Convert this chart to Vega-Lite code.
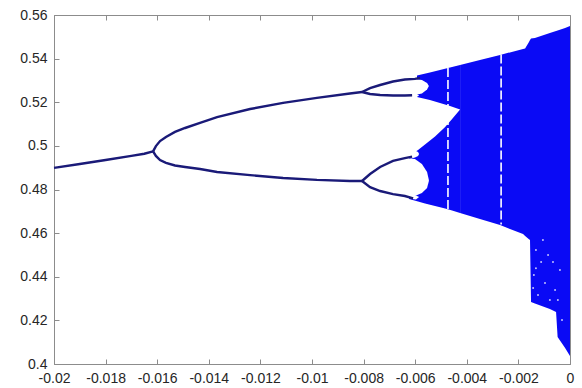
{
  "$schema": "https://vega.github.io/schema/vega-lite/v6.json",
  "width": 516,
  "height": 349,
  "autosize": {"type": "none"},
  "padding": {"left": 54, "top": 15, "right": 12, "bottom": 24},
  "background": "white",
  "config": {
    "view": {"stroke": "#8c8c8c", "strokeWidth": 1},
    "axis": {
      "grid": false,
      "domainColor": "#8c8c8c",
      "tickColor": "#8c8c8c",
      "tickSize": -5,
      "labelFont": "Liberation Sans",
      "labelFontSize": 14,
      "labelColor": "#262626",
      "labelPadding": 12,
      "labelOverlap": false,
      "labelFlush": false,
      "labelBound": false
    }
  },
  "datasets": {
    "chaos": [
      {"band": "A", "x": -0.00593, "hi": 0.5323, "lo": 0.5224},
      {"band": "A", "x": -0.00543, "hi": 0.5336, "lo": 0.5210},
      {"band": "A", "x": -0.00504, "hi": 0.5348, "lo": 0.5197},
      {"band": "A", "x": -0.00465, "hi": 0.5359, "lo": 0.5183},
      {"band": "A", "x": -0.00426, "hi": 0.5371, "lo": 0.5167},
      {"band": "B", "x": -0.00624, "hi": 0.4954, "lo": 0.4756},
      {"band": "B", "x": -0.00589, "hi": 0.4981, "lo": 0.4745},
      {"band": "B", "x": -0.00562, "hi": 0.5006, "lo": 0.4736},
      {"band": "B", "x": -0.00523, "hi": 0.5043, "lo": 0.4724},
      {"band": "B", "x": -0.00484, "hi": 0.5087, "lo": 0.4713},
      {"band": "B", "x": -0.00457, "hi": 0.5123, "lo": 0.4704},
      {"band": "B", "x": -0.00426, "hi": 0.5167, "lo": 0.4692},
      {"band": "C", "x": -0.00426, "hi": 0.5371, "lo": 0.4692},
      {"band": "C", "x": -0.00349, "hi": 0.5394, "lo": 0.4665},
      {"band": "C", "x": -0.00271, "hi": 0.5417, "lo": 0.4637},
      {"band": "C", "x": -0.00182, "hi": 0.5444, "lo": 0.4596},
      {"band": "C", "x": -0.00174, "hi": 0.5446, "lo": 0.4587},
      {"band": "C", "x": -0.00159, "hi": 0.5476, "lo": 0.4572},
      {"band": "C", "x": -0.00155, "hi": 0.5485, "lo": 0.4568},
      {"band": "C", "x": -0.00151, "hi": 0.5492, "lo": 0.4284},
      {"band": "C", "x": -0.00136, "hi": 0.5495, "lo": 0.4277},
      {"band": "C", "x": -0.00078, "hi": 0.5517, "lo": 0.4252},
      {"band": "C", "x": -0.00054, "hi": 0.5527, "lo": 0.4238},
      {"band": "C", "x": -0.00048, "hi": 0.5529, "lo": 0.4124},
      {"band": "C", "x": -0.00019, "hi": 0.5540, "lo": 0.4073},
      {"band": "C", "x": 0, "hi": 0.5550, "lo": 0.4037}
    ],
    "gaps": [
      {"x": -0.00473, "hi": 0.5357, "lo": 0.4706},
      {"x": -0.00267, "hi": 0.5419, "lo": 0.4640}
    ],
    "specks": [
      {"x": -0.00132, "y": 0.4523},
      {"x": -0.00112, "y": 0.4468},
      {"x": -0.00140, "y": 0.4408},
      {"x": -0.00097, "y": 0.4371},
      {"x": -0.00124, "y": 0.4316},
      {"x": -0.00078, "y": 0.4293},
      {"x": -0.00093, "y": 0.4211},
      {"x": -0.00070, "y": 0.4179},
      {"x": -0.00058, "y": 0.4339},
      {"x": -0.00085, "y": 0.4500},
      {"x": -0.00039, "y": 0.4431},
      {"x": -0.00116, "y": 0.4248},
      {"x": -0.00054, "y": 0.4133},
      {"x": -0.00143, "y": 0.4348},
      {"x": -0.00105, "y": 0.4568},
      {"x": -0.00047, "y": 0.4293},
      {"x": -0.00066, "y": 0.4468},
      {"x": -0.00132, "y": 0.4439},
      {"x": -0.00031, "y": 0.4202}
    ],
    "holes": [
      {"loop": "U", "x": -0.00806, "hi": 0.5247, "lo": 0.5247},
      {"loop": "U", "x": -0.00775, "hi": 0.5265, "lo": 0.5238},
      {"loop": "U", "x": -0.00736, "hi": 0.5279, "lo": 0.5233},
      {"loop": "U", "x": -0.00686, "hi": 0.5295, "lo": 0.5231},
      {"loop": "U", "x": -0.00640, "hi": 0.5304, "lo": 0.5231},
      {"loop": "U", "x": -0.00601, "hi": 0.5307, "lo": 0.5233},
      {"loop": "U", "x": -0.00574, "hi": 0.5302, "lo": 0.5240},
      {"loop": "U", "x": -0.00554, "hi": 0.5288, "lo": 0.5258},
      {"loop": "U", "x": -0.00547, "hi": 0.5274, "lo": 0.5274},
      {"loop": "L", "x": -0.00806, "hi": 0.4839, "lo": 0.4839},
      {"loop": "L", "x": -0.00775, "hi": 0.4871, "lo": 0.4811},
      {"loop": "L", "x": -0.00736, "hi": 0.4903, "lo": 0.4793},
      {"loop": "L", "x": -0.00686, "hi": 0.4931, "lo": 0.4779},
      {"loop": "L", "x": -0.00640, "hi": 0.4944, "lo": 0.4770},
      {"loop": "L", "x": -0.00601, "hi": 0.4940, "lo": 0.4770},
      {"loop": "L", "x": -0.00574, "hi": 0.4917, "lo": 0.4784},
      {"loop": "L", "x": -0.00554, "hi": 0.4880, "lo": 0.4807},
      {"loop": "L", "x": -0.00547, "hi": 0.4844, "lo": 0.4839},
      {"loop": "S1", "x": -0.00624, "hi": 0.5233, "lo": 0.5233},
      {"loop": "S1", "x": -0.00612, "hi": 0.5240, "lo": 0.5222},
      {"loop": "S1", "x": -0.00597, "hi": 0.5240, "lo": 0.5222},
      {"loop": "S1", "x": -0.00585, "hi": 0.5231, "lo": 0.5231},
      {"loop": "S2", "x": -0.00628, "hi": 0.4949, "lo": 0.4949},
      {"loop": "S2", "x": -0.00616, "hi": 0.4972, "lo": 0.4942},
      {"loop": "S2", "x": -0.00601, "hi": 0.4979, "lo": 0.4947},
      {"loop": "S2", "x": -0.00589, "hi": 0.4972, "lo": 0.4954},
      {"loop": "S2", "x": -0.00585, "hi": 0.4963, "lo": 0.4963},
      {"loop": "S3", "x": -0.00624, "hi": 0.4768, "lo": 0.4768},
      {"loop": "S3", "x": -0.00612, "hi": 0.4775, "lo": 0.4756},
      {"loop": "S3", "x": -0.00597, "hi": 0.4773, "lo": 0.4754},
      {"loop": "S3", "x": -0.00585, "hi": 0.4766, "lo": 0.4766}
    ],
    "branches": [
      {"seg": "p1", "i": 0, "x": -0.02, "y": 0.4899},
      {"seg": "p1", "i": 1, "x": -0.019, "y": 0.4917},
      {"seg": "p1", "i": 2, "x": -0.018, "y": 0.4935},
      {"seg": "p1", "i": 3, "x": -0.017, "y": 0.4954},
      {"seg": "p1", "i": 4, "x": -0.0165, "y": 0.4964},
      {"seg": "p1", "i": 5, "x": -0.01616, "y": 0.4975},
      {"seg": "up2", "i": 0, "x": -0.01616, "y": 0.4975},
      {"seg": "up2", "i": 1, "x": -0.01605, "y": 0.4999},
      {"seg": "up2", "i": 2, "x": -0.01589, "y": 0.5022},
      {"seg": "up2", "i": 3, "x": -0.01566, "y": 0.5041},
      {"seg": "up2", "i": 4, "x": -0.01531, "y": 0.5064},
      {"seg": "up2", "i": 5, "x": -0.01492, "y": 0.5082},
      {"seg": "up2", "i": 6, "x": -0.01434, "y": 0.5105},
      {"seg": "up2", "i": 7, "x": -0.01368, "y": 0.5132},
      {"seg": "up2", "i": 8, "x": -0.01240, "y": 0.5169},
      {"seg": "up2", "i": 9, "x": -0.01112, "y": 0.5197},
      {"seg": "up2", "i": 10, "x": -0.00981, "y": 0.5220},
      {"seg": "up2", "i": 11, "x": -0.00853, "y": 0.5240},
      {"seg": "up2", "i": 12, "x": -0.00806, "y": 0.5247},
      {"seg": "lo2", "i": 0, "x": -0.01616, "y": 0.4975},
      {"seg": "lo2", "i": 1, "x": -0.01605, "y": 0.4954},
      {"seg": "lo2", "i": 2, "x": -0.01589, "y": 0.4935},
      {"seg": "lo2", "i": 3, "x": -0.01566, "y": 0.4922},
      {"seg": "lo2", "i": 4, "x": -0.01531, "y": 0.4910},
      {"seg": "lo2", "i": 5, "x": -0.01492, "y": 0.4903},
      {"seg": "lo2", "i": 6, "x": -0.01434, "y": 0.4894},
      {"seg": "lo2", "i": 7, "x": -0.01368, "y": 0.4880},
      {"seg": "lo2", "i": 8, "x": -0.01240, "y": 0.4866},
      {"seg": "lo2", "i": 9, "x": -0.01112, "y": 0.4853},
      {"seg": "lo2", "i": 10, "x": -0.00981, "y": 0.4844},
      {"seg": "lo2", "i": 11, "x": -0.00853, "y": 0.4839},
      {"seg": "lo2", "i": 12, "x": -0.00806, "y": 0.4839},
      {"seg": "u4t", "i": 0, "x": -0.00806, "y": 0.5247},
      {"seg": "u4t", "i": 1, "x": -0.00775, "y": 0.5265},
      {"seg": "u4t", "i": 2, "x": -0.00736, "y": 0.5279},
      {"seg": "u4t", "i": 3, "x": -0.00686, "y": 0.5295},
      {"seg": "u4t", "i": 4, "x": -0.00640, "y": 0.5304},
      {"seg": "u4t", "i": 5, "x": -0.00601, "y": 0.5307},
      {"seg": "u4t", "i": 6, "x": -0.00581, "y": 0.5311},
      {"seg": "u4b", "i": 0, "x": -0.00806, "y": 0.5247},
      {"seg": "u4b", "i": 1, "x": -0.00775, "y": 0.5238},
      {"seg": "u4b", "i": 2, "x": -0.00736, "y": 0.5233},
      {"seg": "u4b", "i": 3, "x": -0.00686, "y": 0.5231},
      {"seg": "u4b", "i": 4, "x": -0.00640, "y": 0.5231},
      {"seg": "u4b", "i": 5, "x": -0.00612, "y": 0.5232},
      {"seg": "l4t", "i": 0, "x": -0.00806, "y": 0.4839},
      {"seg": "l4t", "i": 1, "x": -0.00775, "y": 0.4871},
      {"seg": "l4t", "i": 2, "x": -0.00736, "y": 0.4903},
      {"seg": "l4t", "i": 3, "x": -0.00686, "y": 0.4931},
      {"seg": "l4t", "i": 4, "x": -0.00640, "y": 0.4944},
      {"seg": "l4t", "i": 5, "x": -0.00612, "y": 0.4951},
      {"seg": "l4b", "i": 0, "x": -0.00806, "y": 0.4839},
      {"seg": "l4b", "i": 1, "x": -0.00775, "y": 0.4811},
      {"seg": "l4b", "i": 2, "x": -0.00736, "y": 0.4793},
      {"seg": "l4b", "i": 3, "x": -0.00686, "y": 0.4779},
      {"seg": "l4b", "i": 4, "x": -0.00640, "y": 0.4770},
      {"seg": "l4b", "i": 5, "x": -0.00608, "y": 0.4759}
    ]
  },
  "layer": [
    {
      "data": {"name": "chaos"},
      "mark": {"type": "area", "color": "#0a0af5", "interpolate": "linear"},
      "encoding": {
        "x": {
          "field": "x", "type": "quantitative",
          "scale": {"domain": [-0.02, 0], "nice": false, "zero": false},
          "axis": {
            "orient": "bottom", "title": null,
            "values": [-0.02, -0.018, -0.016, -0.014, -0.012, -0.01, -0.008, -0.006, -0.004, -0.002, 0],
            "labelExpr": "datum.value < 0 ? '-' + format(-datum.value, '~g') : '0'"
          }
        },
        "y": {
          "field": "hi", "type": "quantitative",
          "scale": {"domain": [0.4, 0.56], "nice": false, "zero": false},
          "axis": {
            "orient": "left", "title": null,
            "values": [0.4, 0.42, 0.44, 0.46, 0.48, 0.5, 0.52, 0.54, 0.56],
            "format": "~g"
          }
        },
        "y2": {"field": "lo"},
        "detail": {"field": "band", "type": "nominal"}
      }
    },
    {
      "data": {"name": "gaps"},
      "mark": {"type": "rule", "color": "white", "strokeWidth": 1.6, "strokeDash": [9, 3]},
      "encoding": {
        "x": {"field": "x", "type": "quantitative", "axis": null},
        "y": {"field": "hi", "type": "quantitative", "axis": null},
        "y2": {"field": "lo"}
      }
    },
    {
      "data": {"name": "specks"},
      "mark": {"type": "point", "filled": true, "color": "white", "size": 4, "opacity": 0.75},
      "encoding": {
        "x": {"field": "x", "type": "quantitative", "axis": null},
        "y": {"field": "y", "type": "quantitative", "axis": null}
      }
    },
    {
      "data": {"name": "holes"},
      "mark": {"type": "area", "color": "white", "interpolate": "linear"},
      "encoding": {
        "x": {"field": "x", "type": "quantitative", "axis": null},
        "y": {"field": "hi", "type": "quantitative", "axis": null},
        "y2": {"field": "lo"},
        "detail": {"field": "loop", "type": "nominal"}
      }
    },
    {
      "data": {"name": "branches"},
      "mark": {"type": "line", "color": "#1a1a78", "strokeWidth": 2.4, "interpolate": "linear"},
      "encoding": {
        "x": {"field": "x", "type": "quantitative",
          "axis": {"orient": "top", "title": null, "labels": false, "domain": false,
            "values": [-0.02, -0.018, -0.016, -0.014, -0.012, -0.01, -0.008, -0.006, -0.004, -0.002, 0]}},
        "y": {"field": "y", "type": "quantitative",
          "axis": {"orient": "right", "title": null, "labels": false, "domain": false,
            "values": [0.4, 0.42, 0.44, 0.46, 0.48, 0.5, 0.52, 0.54, 0.56]}},
        "detail": {"field": "seg", "type": "nominal"},
        "order": {"field": "i", "type": "quantitative"}
      }
    }
  ],
  "resolve": {"axis": {"x": "independent", "y": "independent"}}
}
